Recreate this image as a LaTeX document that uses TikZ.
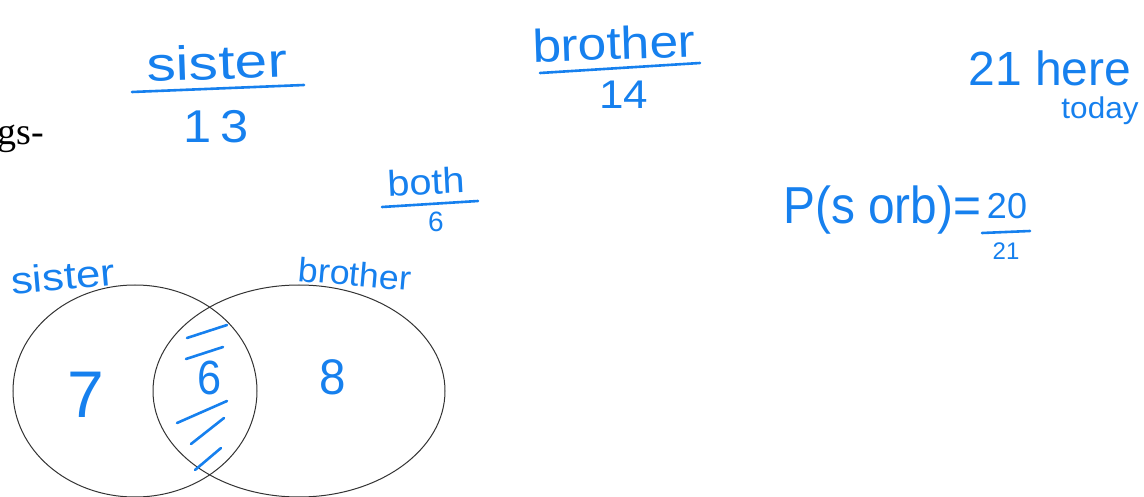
\documentclass[tikz,border=0pt]{standalone}
\usepackage{fontspec}
\setmainfont{Liberation Serif}
\newfontfamily\hand{Liberation Sans}
\usetikzlibrary{shapes.geometric}
\definecolor{ink}{RGB}{22,128,238}
\tikzset{
  hw/.style={text=ink, inner sep=0pt, font=\hand},
  pen/.style={draw=ink, line width=2.6pt, line cap=round},
  venn/.style={ellipse, draw=black!80, line width=1pt, inner sep=0pt}
}
\newcommand{\hs}[3]{{\fontsize{#1}{#1}\selectfont\scalebox{#2}[1]{#3}}}
\begin{document}
\begin{tikzpicture}[x=1pt,y=-1pt]
\useasboundingbox (0,0) rectangle (1144,497);
% printed text
\node[anchor=base east, inner sep=0pt, font=\fontsize{38}{40}\selectfont] (gs) at (44,145) {gs-};
% sister / 13
\node[hw, rotate=2] (sis) at (217,62) {\hs{48}{1.22}{sister}};
\coordinate (s1) at (132,92); \coordinate (s2) at (304,85);
\draw[pen] (s1) -- (s2);
\node[hw] (n13) at (216,127) {\hs{46}{1.1}{1\,3}};
% brother / 14
\node[hw, rotate=2] (bro) at (614,43) {\hs{46}{1.12}{brother}};
\coordinate (b1) at (540,73); \coordinate (b2) at (700,63);
\draw[pen] (b1) -- (b2);
\node[hw] (n14) at (624,95) {\hs{40}{1.1}{14}};
% both / 6
\node[hw, rotate=3] (both) at (426,182) {\hs{36}{1.1}{both}};
\coordinate (t1) at (382,207); \coordinate (t2) at (478,201);
\draw[pen] (t1) -- (t2);
\node[hw] (n6) at (436,222) {\hs{28}{1}{6}};
% 21 here today
\node[hw] (here) at (1050,68) {\hs{48}{1}{21 here}};
\node[hw] (today) at (1100,111) {\hs{30}{1.05}{today}};
% probability
\node[hw, anchor=west] (prob) at (783,210) {\hs{52}{0.92}{P(s orb)=}};
\node[hw] (num) at (1007,206) {\hs{36}{1}{20}};
\coordinate (f1) at (982,233); \coordinate (f2) at (1030,231);
\draw[pen] (f1) -- (f2);
\node[hw] (den) at (1006,251) {\hs{24}{1}{21}};
% Venn diagram
\node[venn, minimum width=244pt, minimum height=212pt] (A) at (135,391) {};
\node[venn, minimum width=292pt, minimum height=212pt] (B) at (299,391) {};
\node[hw, rotate=5] (lsis) at (63,276) {\hs{38}{1.15}{sister}};
\node[hw, rotate=-5] (lbro) at (355,274) {\hs{34}{1.05}{brother}};
\node[hw] (n7) at (86,395) {\hs{66}{1}{7}};
\node[hw] (n6v) at (210,378) {\hs{48}{0.9}{6}};
\node[hw] (n8) at (333,377) {\hs{50}{0.95}{8}};
% hatching
\draw[pen] (187,338) -- (227,325);
\draw[pen] (186,359) -- (223,347);
\draw[pen] (177,423) -- (227,401);
\draw[pen] (191,444) -- (224,418);
\draw[pen] (195,470) -- (221,448);
\end{tikzpicture}
\end{document}
